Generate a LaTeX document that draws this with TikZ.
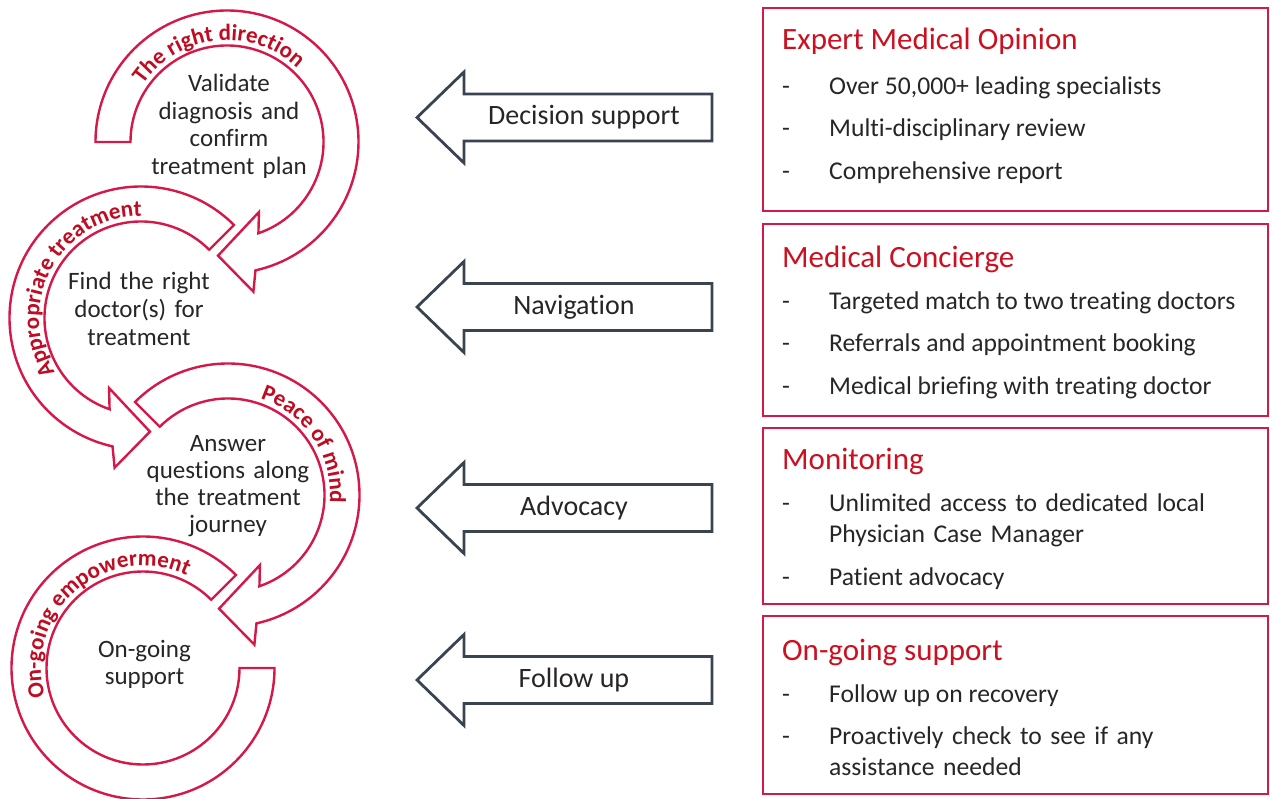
\documentclass[tikz,border=0pt]{standalone}
\usepackage{fontspec}
\setmainfont{Carlito}[Ligatures=NoCommon]
\usetikzlibrary{decorations.text}

\definecolor{ringred}{RGB}{214,24,72}
\definecolor{labelred}{RGB}{192,12,34}
\definecolor{titlered}{RGB}{204,16,32}
\definecolor{arrowgray}{RGB}{58,68,80}
\definecolor{bodytext}{RGB}{38,38,38}

\begin{document}
\begin{tikzpicture}[x=1pt, y=1pt,
  ring/.style={draw=ringred, line width=2.4pt, fill=white, line join=miter, miter limit=10},
  ringlabel/.style={decorate, decoration={text along path, text align=center,
      text color=labelred, text={|\fontsize{23}{23}\selectfont\bfseries|#1}}},
  stagetext/.style={text=bodytext, font=\fontsize{25}{27.5}\selectfont, align=center,
      text width=220pt, inner sep=0pt, anchor=base},
  backarrow/.style={draw=arrowgray, line width=2.8pt, fill=white, line join=miter},
  arrowlabel/.style={text=bodytext, font=\fontsize{28}{30}\selectfont, inner sep=0pt, anchor=base},
  infobox/.style={draw=ringred, line width=2.6pt},
  boxtitle/.style={text=titlered, font=\fontsize{31}{34}\selectfont, inner sep=0pt, anchor=base west},
  boxitem/.style={text=bodytext, font=\fontsize{25.6}{31}\selectfont, inner sep=0pt, anchor=base west},
  boxitemlong/.style={boxitem, text width=420pt, align=left},
]
\useasboundingbox (0,0) rectangle (1270,-799);
\fill[white] (0,0) rectangle (1270,-799);

% ---------- circular stage arrows ----------
% stage 4: open ring, no head
\begin{scope}[shift={(143,-668)}]
  \draw[ring] (45:131.5) arc[start angle=45, end angle=360, radius=131.5]
    -- (360:96.5) arc[start angle=360, end angle=45, radius=96.5] -- cycle;
  \path[ringlabel={On-going empowerment}] (220.5:102) arc[start angle=220.5, end angle=40.5, radius=102];
  \node[stagetext] (s4) at (1.5,11) {On-going\\support};
\end{scope}

% stage 3: clockwise, head at the bottom
\begin{scope}[shift={(228,-495)}]
  \draw[ring] (135:131.5) arc[start angle=135, end angle=-77.5, radius=131.5]
    -- (-80:152) -- (-94.5:114) -- (-65.5:77)
    -- (-71:96.5) arc[start angle=-71, end angle=135, radius=96.5] -- cycle;
  \path[ringlabel={Peace of mind}] (123.5:102) arc[start angle=123.5, end angle=-56.5, radius=102];
  \node[stagetext, font=\fontsize{25}{27}\selectfont] (s3) at (0,43) {Answer\\questions along\\the treatment\\journey};
\end{scope}

% stage 2: counter-clockwise, head at the bottom
\begin{scope}[shift={(141,-318)}]
  \draw[ring] (45:131.5) arc[start angle=45, end angle=257.5, radius=131.5]
    -- (260:152) -- (274.5:114) -- (245.5:77)
    -- (251:96.5) arc[start angle=251, end angle=45, radius=96.5] -- cycle;
  \path[ringlabel={Appropriate treatment}] (241:102) arc[start angle=241, end angle=61, radius=102];
  \node[stagetext, font=\fontsize{25}{28}\selectfont] (s2) at (-2,28) {Find the right\\doctor(s) for\\treatment};
\end{scope}

% stage 1: clockwise from the left, head at the bottom
\begin{scope}[shift={(227,-142)}]
  \draw[ring] (180:131.5) arc[start angle=180, end angle=-77.5, radius=131.5]
    -- (-80:152) -- (-94.5:114) -- (-65.5:77)
    -- (-71:96.5) arc[start angle=-71, end angle=180, radius=96.5] -- cycle;
  \path[ringlabel={The right direction}] (186:102) arc[start angle=186, end angle=6, radius=102];
  \node[stagetext] (s1) at (2,50) {Validate\\diagnosis and\\confirm\\treatment plan};
\end{scope}

% ---------- block arrows pointing back to the stages ----------
\begin{scope}[shift={(0,-117.5)}]
  \draw[backarrow] (712,23.5) -- (464,23.5) -- (464,45.5) -- (417,0)
    -- (464,-45.5) -- (464,-23.5) -- (712,-23.5) -- cycle;
  \node[arrowlabel] (a1) at (584,-7.5) {Decision support};
\end{scope}
\begin{scope}[shift={(0,-307)}]
  \draw[backarrow] (712,23.5) -- (464,23.5) -- (464,45.5) -- (417,0)
    -- (464,-45.5) -- (464,-23.5) -- (712,-23.5) -- cycle;
  \node[arrowlabel] (a2) at (574,-7.5) {Navigation};
\end{scope}
\begin{scope}[shift={(0,-508)}]
  \draw[backarrow] (712,23.5) -- (464,23.5) -- (464,45.5) -- (417,0)
    -- (464,-45.5) -- (464,-23.5) -- (712,-23.5) -- cycle;
  \node[arrowlabel] (a3) at (574,-7.5) {Advocacy};
\end{scope}
\begin{scope}[shift={(0,-680)}]
  \draw[backarrow] (712,23.5) -- (464,23.5) -- (464,45.5) -- (417,0)
    -- (464,-45.5) -- (464,-23.5) -- (712,-23.5) -- cycle;
  \node[arrowlabel] (a4) at (574,-7.5) {Follow up};
\end{scope}

% ---------- service boxes ----------
\draw[infobox] (763,-8) rectangle (1268,-211);
\node[boxtitle] (t1) at (782,-50) {Expert Medical Opinion};
\node[boxitem] (d11) at (782,-95) {-};
\node[boxitem] (i11) at (829,-95) {Over 50,000+ leading specialists};
\node[boxitem] (d12) at (782,-137) {-};
\node[boxitem] (i12) at (829,-137) {Multi-disciplinary review};
\node[boxitem] (d13) at (782,-180) {-};
\node[boxitem] (i13) at (829,-180) {Comprehensive report};

\draw[infobox] (763,-224) rectangle (1268,-416);
\node[boxtitle] (t2) at (782,-268) {Medical Concierge};
\node[boxitem] (d21) at (782,-310) {-};
\node[boxitem] (i21) at (829,-310) {Targeted match to two treating doctors};
\node[boxitem] (d22) at (782,-352) {-};
\node[boxitem] (i22) at (829,-352) {Referrals and appointment booking};
\node[boxitem] (d23) at (782,-395) {-};
\node[boxitem] (i23) at (829,-395) {Medical briefing with treating doctor};

\draw[infobox] (763,-428) rectangle (1268,-604);
\node[boxtitle] (t3) at (782,-470) {Monitoring};
\node[boxitem] (d31) at (782,-512) {-};
\node[boxitemlong] (i31) at (829,-512) {Unlimited access to dedicated local\\Physician Case Manager};
\node[boxitem] (d32) at (782,-585) {-};
\node[boxitem] (i32) at (829,-585) {Patient advocacy};

\draw[infobox] (763,-616) rectangle (1268,-794);
\node[boxtitle] (t4) at (782,-660) {On-going support};
\node[boxitem] (d41) at (782,-702) {-};
\node[boxitem] (i41) at (829,-702) {Follow up on recovery};
\node[boxitem] (d42) at (782,-744) {-};
\node[boxitemlong] (i42) at (829,-744) {Proactively check to see if any\\assistance needed};
\end{tikzpicture}
\end{document}
